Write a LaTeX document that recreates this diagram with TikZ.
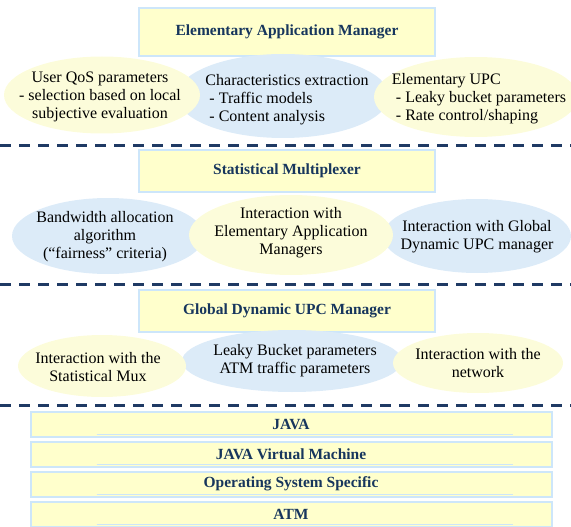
\documentclass[tikz,border=0pt]{standalone}
\usepackage{fontspec}
\setmainfont{Liberation Serif}
\usetikzlibrary{shapes.geometric}
\definecolor{navy}{HTML}{17365D}
\definecolor{dashnavy}{HTML}{1F3A64}
\definecolor{boxfill}{HTML}{FFFFCC}
\definecolor{boxline}{HTML}{CDE6FA}
\definecolor{ellY}{HTML}{FCFCDA}
\definecolor{ellB}{HTML}{DCEBF8}
\begin{document}
\begin{tikzpicture}[x=1pt,y=-1pt,
  titlebox/.style={draw=boxline, line width=2pt, fill=boxfill, minimum width=296pt, inner sep=0pt,
    font=\bfseries\fontsize{15.5}{18}\selectfont, text=navy},
  barbox/.style={draw=boxline, line width=2pt, fill=boxfill, minimum width=521pt, minimum height=25pt, inner sep=0pt,
    font=\bfseries\fontsize{15.5}{18}\selectfont, text=navy},
  underl/.style={draw=boxline, line width=1pt},
  ovalY/.style={ellipse, fill=ellY, inner sep=0pt},
  ovalB/.style={ellipse, fill=ellB, inner sep=0pt},
  etext/.style={font=\fontsize{16}{18}\selectfont, inner sep=0pt},
  dashline/.style={draw=dashnavy, line width=3pt, dash pattern=on 11pt off 8pt}
]
\useasboundingbox (0,0) rectangle (571,527);

% ---- Level 1
\node[titlebox, minimum height=48pt] (eam) at (287,32) {Elementary Application Manager};
\node[ovalB, minimum width=212pt, minimum height=84pt] (c1) at (283,96) {};
\node[ovalY, minimum width=196pt, minimum height=77pt] (l1) at (102,95) {};
\node[ovalY, minimum width=204pt, minimum height=80pt] (r1) at (476,97) {};
\node[etext, align=center] (l1t) at (100,97) {User QoS parameters\\- selection based on local\\subjective evaluation};
\node[etext, align=left] (c1t) at (287,100) {Characteristics extraction\\ \ - Traffic models\\ \ - Content analysis};
\node[etext, align=left] (r1t) at (479,99) {Elementary UPC\\ \ - Leaky bucket parameters\\ \ - Rate control/shaping};

\draw[dashline] (0,145) -- (571,145);

% ---- Level 2
\node[titlebox, minimum height=42pt] (smx) at (287,171) {Statistical Multiplexer};
\node[ovalB, minimum width=192pt, minimum height=76pt] (l2) at (108,236) {};
\node[ovalB, minimum width=188pt, minimum height=74pt] (r2) at (477,236) {};
\node[ovalY, minimum width=204pt, minimum height=80pt] (c2) at (291,235) {};
\node[etext, align=center] (l2t) at (105,237) {Bandwidth allocation\\algorithm\\(“fairness” criteria)};
\node[etext, align=center] (c2t) at (291,233) {Interaction with\\Elementary Application\\Managers};
\node[etext, align=center] (r2t) at (477,237) {Interaction with Global\\Dynamic UPC manager};

\draw[dashline] (0,284) -- (571,284);

% ---- Level 3
\node[titlebox, minimum height=42pt] (gdu) at (287,311) {Global Dynamic UPC Manager};
\node[ovalB, minimum width=220pt, minimum height=62pt] (c3) at (292,361) {};
\node[ovalY, minimum width=168pt, minimum height=62pt] (l3) at (102,366) {};
\node[ovalY, minimum width=170pt, minimum height=60pt] (r3) at (478,363) {};
\node[etext, align=center] (l3t) at (98,367) {Interaction with the\\Statistical Mux};
\node[etext, align=center] (c3t) at (295,361) {Leaky Bucket parameters\\ATM traffic parameters};
\node[etext, align=center] (r3t) at (478,363) {Interaction with the\\network};

\draw[dashline] (0,405) -- (571,405);

% ---- Platform stack
\node[barbox] (java) at (291,424) {JAVA};
\node[barbox] (jvm)  at (291,454) {JAVA Virtual Machine};
\node[barbox] (oss)  at (291,484) {Operating System Specific};
\node[barbox] (atm)  at (291,514) {ATM};
\foreach \b in {java,jvm,oss,atm}{
  \draw[underl] ([xshift=67pt,yshift=3pt]\b.south west) -- ([xshift=-40pt,yshift=3pt]\b.south east);
}
\end{tikzpicture}
\end{document}
